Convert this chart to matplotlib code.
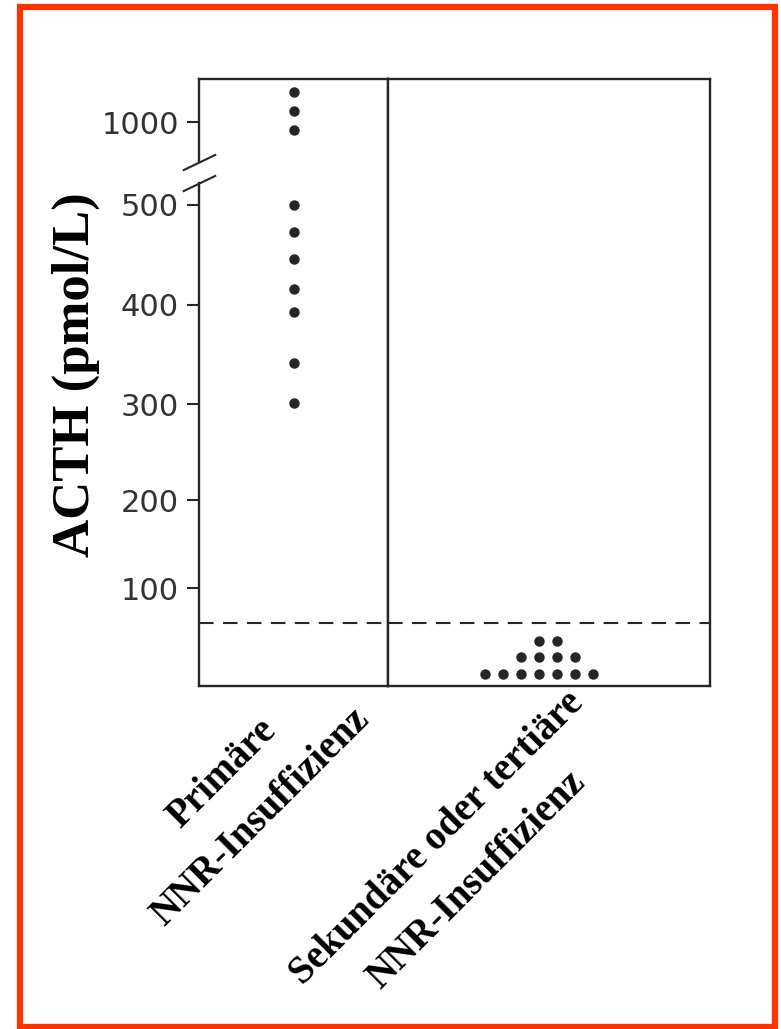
import matplotlib.pyplot as plt
import numpy as np
from matplotlib.patches import Rectangle

# ACTH (pmol/L) per patient
primary_acth = [1190, 1070, 950, 500, 473, 446, 416, 393, 341, 301]
secondary_levels = [10, 28, 45]
secondary_counts = [7, 4, 2]
cutoff = 64
y_ticks = [100, 200, 300, 400, 500, 1000]
group_labels = [("Primäre", "NNR-Insuffizienz"),
                ("Sekundäre oder tertiäre", "NNR-Insuffizienz")]

# broken y axis: value -> drawn height, compressed above the break
knot_values = [-1000, -2, 0, 100, 200, 300, 400, 500, 522, 744, 1000, 1276, 10000]
knot_heights = [-958, 0, 2, 98, 186, 282, 381, 481, 503, 524, 564, 607, 1968]
break_lo, break_hi = 522, 744


def fwd(v):
    return np.interp(v, knot_values, knot_heights)


def inv(h):
    return np.interp(h, knot_heights, knot_values)


ink = "#262626"
W, H = 781, 1029
fig = plt.figure(figsize=(W / 100, H / 100), dpi=100)

ax1 = fig.add_axes([199 / W, 1 - 686 / H, 189 / W, 607 / H])
ax2 = fig.add_axes([388 / W, 1 - 686 / H, 322 / W, 607 / H])

for ax in (ax1, ax2):
    ax.set_yscale("function", functions=(fwd, inv))
    ax.set_ylim(-2, 1276)
    ax.set_xlim(-0.5, 0.5)
    ax.set_xticks([])
    for s in ax.spines.values():
        s.set_linewidth(1.7)
        s.set_color(ink)
    ax.axhline(cutoff, color=ink, lw=1.5, dashes=(7, 4.5))

# left panel: one column of dots
ax1.plot(np.zeros(len(primary_acth)), primary_acth, "o", color=ink, ms=7.5, mec="none")
ax1.set_yticks(y_ticks)
ax1.set_yticklabels([str(t) for t in y_ticks], fontsize=22, color="#333333",
                    family="DejaVu Sans")
ax1.tick_params(axis="y", direction="out", length=8.5, width=1.5, pad=6, color=ink)
ax1.yaxis.set_minor_locator(plt.NullLocator())

# left spine with a gap and two slashes at the break
ax1.spines["left"].set_visible(False)
ytr = ax1.get_yaxis_transform()
ax1.plot([0, 0], [-2, break_lo], color=ink, lw=1.7, transform=ytr, clip_on=False)
ax1.plot([0, 0], [break_hi, 1276], color=ink, lw=1.7, transform=ytr, clip_on=False)
ax1.plot([0, 0], [break_lo, break_hi], transform=ytr, clip_on=False,
         linestyle="none", marker=[(-1, -0.48), (1, 0.48)], ms=24,
         mew=1.5, mec=ink)

# right panel: stacked dot rows
step = 0.056
for level, n in zip(secondary_levels, secondary_counts):
    xs = (np.arange(n) - (n - 1) // 2) * step
    ax2.plot(xs - 0.031, [level] * n, "o", color=ink, ms=7.5, mec="none")
ax2.tick_params(axis="y", left=False, labelleft=False)
ax2.yaxis.set_minor_locator(plt.NullLocator())

fig.text(76 / W, 1 - 375 / H, "ACTH (pmol/L)", rotation=90, ha="center",
         va="center", fontsize=38, fontweight="bold", family="Liberation Serif")

label_kw = dict(rotation=45, ha="center", va="center", rotation_mode="anchor",
                fontsize=28, fontweight="bold", family="Liberation Serif")
label_pos = [((222, 774), (261, 817)), ((437, 838), (477, 880))]
for (top, bottom), ((x1, y1), (x2, y2)) in zip(group_labels, label_pos):
    fig.text(x1 / W, 1 - y1 / H, top, **label_kw)
    fig.text(x2 / W, 1 - y2 / H, bottom, **label_kw)

fig.patches.append(Rectangle((20 / W, 2 / H), 755 / W, 1020 / H, fill=False,
                             lw=4.5, ec="#ff3300", transform=fig.transFigure))

fig.savefig("out.png", dpi=100)
